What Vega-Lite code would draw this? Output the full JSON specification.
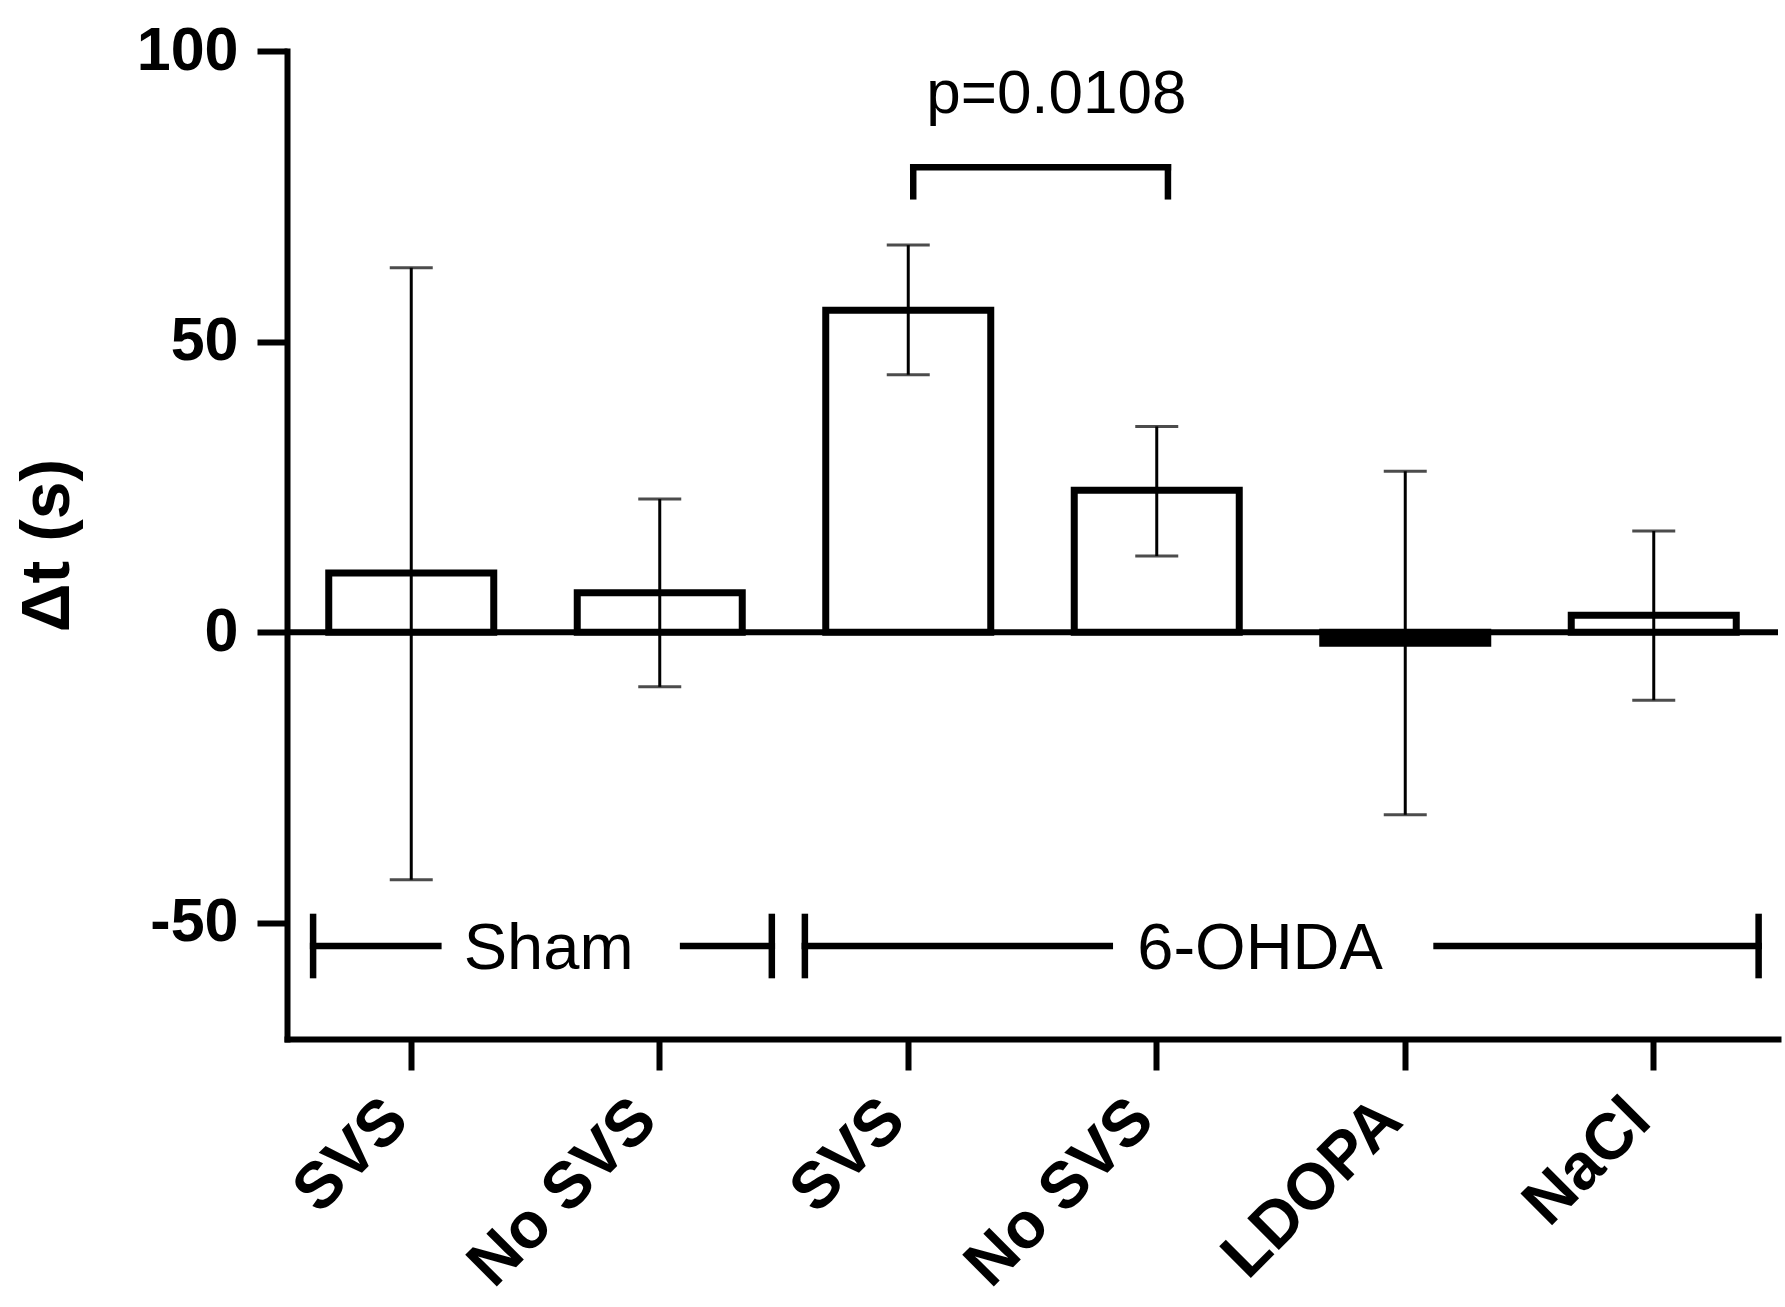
{
  "$schema": "https://vega.github.io/schema/vega-lite/v6.json",
  "width": 1491,
  "height": 988,
  "autosize": {"type": "none"},
  "padding": {"left": 287, "top": 51, "right": 7, "bottom": 268},
  "background": "white",
  "config": {"view": {"stroke": null}},
  "datasets": {
    "bars": [
      {"key": "Sham|SVS", "mean": 10.2, "lo": -42.6, "hi": 62.7},
      {"key": "Sham|No SVS", "mean": 6.8, "lo": -9.4, "hi": 22.9},
      {"key": "6-OHDA|SVS", "mean": 55.4, "lo": 44.3, "hi": 66.6},
      {"key": "6-OHDA|No SVS", "mean": 24.4, "lo": 13.1, "hi": 35.4},
      {"key": "6-OHDA|LDOPA", "mean": -1.9, "lo": -31.4, "hi": 27.7},
      {"key": "6-OHDA|NaCl", "mean": 2.9, "lo": -11.7, "hi": 17.4}
    ],
    "segs": [
      {"x": 2.52, "x2": 3.545, "y": 80, "y2": 80},
      {"x": 2.52, "x2": 2.52, "y": 80, "y2": 75},
      {"x": 3.545, "x2": 3.545, "y": 80, "y2": 75},
      {"x": 0.105, "x2": 0.609, "y": -54, "y2": -54},
      {"x": 1.594, "x2": 1.951, "y": -54, "y2": -54},
      {"x": 0.105, "x2": 0.105, "y": -49, "y2": -59},
      {"x": 1.951, "x2": 1.951, "y": -49, "y2": -59},
      {"x": 2.084, "x2": 3.311, "y": -54, "y2": -54},
      {"x": 4.626, "x2": 5.922, "y": -54, "y2": -54},
      {"x": 2.084, "x2": 2.084, "y": -49, "y2": -59},
      {"x": 5.922, "x2": 5.922, "y": -49, "y2": -59}
    ],
    "groups": [
      {"x": 1.053, "y": -58, "text": "Sham"},
      {"x": 3.916, "y": -58, "text": "6-OHDA"}
    ],
    "pval": [
      {"x": 3.096, "y": 89.4, "text": "p=0.0108"}
    ]
  },
  "layer": [
    {
      "layer": [
        {
          "data": {"name": "bars"},
          "mark": {"type": "bar", "stroke": "black", "strokeWidth": 7},
          "encoding": {
            "x": {
              "field": "key", "type": "nominal", "sort": null,
              "scale": {"paddingInner": 0.336, "paddingOuter": 0.168},
              "axis": {
                "title": null,
                "labelExpr": "split(datum.label, '|')[1]",
                "labelAngle": -45,
                "labelAlign": "right",
                "labelBaseline": "alphabetic",
                "labelLimit": 0,
                "labelFont": "Liberation Sans",
                "labelFontWeight": "bold",
                "labelFontSize": 65,
                "labelColor": "black",
                "labelPadding": 53,
                "tickSize": 31,
                "tickWidth": 6,
                "tickColor": "black",
                "domainWidth": 6,
                "domainColor": "black",
                "domainCap": "square"
              }
            },
            "y": {
              "field": "mean", "type": "quantitative",
              "scale": {"domain": [-70, 100], "nice": false},
              "axis": {
                "title": "Δt (s)",
                "titleFont": "Liberation Sans",
                "titleFontWeight": "bold",
                "titleFontSize": 68,
                "titleColor": "black",
                "titlePadding": 54,
                "values": [-50, 0, 50, 100],
                "labelExpr": "datum.value < 0 ? '-' + abs(datum.value) : '' + datum.value",
                "grid": false,
                "labelFont": "Liberation Sans",
                "labelFontWeight": "bold",
                "labelFontSize": 61,
                "labelColor": "black",
                "labelPadding": 19,
                "tickSize": 30,
                "tickWidth": 6,
                "tickColor": "black",
                "domainWidth": 6,
                "domainColor": "black",
                "domainCap": "square"
              }
            },
            "fill": {
              "condition": {"test": "datum.mean < 0", "value": "black"},
              "value": "white"
            }
          }
        },
        {
          "data": {"name": "bars"},
          "mark": {"type": "rule", "color": "black", "strokeWidth": 3},
          "encoding": {
            "x": {"field": "key", "type": "nominal", "sort": null},
            "y": {"field": "lo", "type": "quantitative"},
            "y2": {"field": "hi"}
          }
        },
        {
          "data": {"name": "bars"},
          "mark": {"type": "tick", "color": "black", "thickness": 3, "size": 43},
          "encoding": {
            "x": {"field": "key", "type": "nominal", "sort": null},
            "y": {"field": "lo", "type": "quantitative"}
          }
        },
        {
          "data": {"name": "bars"},
          "mark": {"type": "tick", "color": "black", "thickness": 3, "size": 43},
          "encoding": {
            "x": {"field": "key", "type": "nominal", "sort": null},
            "y": {"field": "hi", "type": "quantitative"}
          }
        },
        {
          "data": {"values": [{}]},
          "mark": {"type": "rule", "color": "black", "strokeWidth": 6},
          "encoding": {"y": {"datum": 0, "type": "quantitative"}}
        }
      ]
    },
    {
      "layer": [
        {
          "data": {"name": "segs"},
          "mark": {"type": "rule", "color": "black", "strokeWidth": 6.5, "strokeCap": "square"},
          "encoding": {
            "x": {"field": "x", "type": "quantitative", "scale": {"domain": [0, 6], "nice": false, "zero": false}, "axis": null},
            "x2": {"field": "x2"},
            "y": {"field": "y", "type": "quantitative"},
            "y2": {"field": "y2"}
          }
        },
        {
          "data": {"name": "groups"},
          "mark": {"type": "text", "font": "Liberation Sans", "fontSize": 65, "color": "black", "align": "center", "baseline": "alphabetic"},
          "encoding": {
            "x": {"field": "x", "type": "quantitative"},
            "y": {"field": "y", "type": "quantitative"},
            "text": {"field": "text"}
          }
        },
        {
          "data": {"name": "pval"},
          "mark": {"type": "text", "font": "Liberation Sans", "fontSize": 62, "color": "black", "align": "center", "baseline": "alphabetic"},
          "encoding": {
            "x": {"field": "x", "type": "quantitative"},
            "y": {"field": "y", "type": "quantitative"},
            "text": {"field": "text"}
          }
        }
      ]
    }
  ],
  "resolve": {"scale": {"x": "independent"}}
}
